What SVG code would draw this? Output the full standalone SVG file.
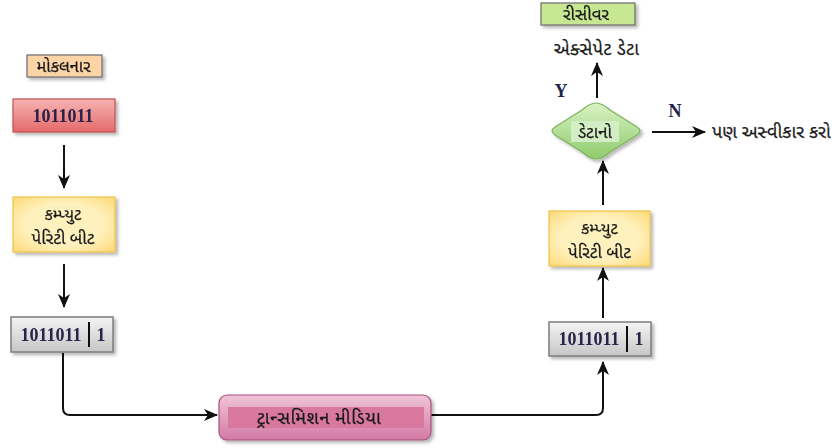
<svg xmlns="http://www.w3.org/2000/svg" width="834" height="448" viewBox="0 0 834 448">
  <defs>
    <filter id="shadow" x="-20%" y="-20%" width="150%" height="160%">
      <feDropShadow dx="2.5" dy="2.5" stdDeviation="1.5" flood-color="#000" flood-opacity="0.28"/>
    </filter>
    <linearGradient id="gRed" x1="0" y1="0" x2="0" y2="1">
      <stop offset="0" stop-color="#f7b3b3"/>
      <stop offset="1" stop-color="#e46a6a"/>
    </linearGradient>
    <linearGradient id="gGray" x1="0" y1="0" x2="0" y2="1">
      <stop offset="0" stop-color="#f4f4f4"/>
      <stop offset="1" stop-color="#c6c6c6"/>
    </linearGradient>
    <linearGradient id="gPink" x1="0" y1="0" x2="0" y2="1">
      <stop offset="0" stop-color="#f0c4d8"/>
      <stop offset="1" stop-color="#d27aa4"/>
    </linearGradient>
    <linearGradient id="gGreen" x1="0" y1="0" x2="0" y2="1">
      <stop offset="0" stop-color="#d9f2c4"/>
      <stop offset="1" stop-color="#8ecb6c"/>
    </linearGradient>
    <radialGradient id="gYellow" cx="0.5" cy="0.5" r="0.7">
      <stop offset="0.55" stop-color="#fff1bd"/>
      <stop offset="1" stop-color="#fcd977"/>
    </radialGradient>
    <marker id="arrow" viewBox="0 0 14 12" refX="13" refY="6" markerWidth="14" markerHeight="12" markerUnits="userSpaceOnUse" orient="auto">
      <path d="M0,0 L14,6 L0,12 L4,6 Z" fill="#111"/>
    </marker>
    <style>
      .guj { font-family: "Noto Sans Gujarati", "Lohit Gujarati", "Noto Sans", "DejaVu Sans", sans-serif; font-size: 17px; fill: #1a1a1a; stroke: #1a1a1a; stroke-width: 0.25; }
      .bits { font-family: "Liberation Serif", "DejaVu Serif", serif; font-size: 18px; font-weight: bold; fill: #2b2148; }
      .yn { font-family: "Liberation Serif", "DejaVu Serif", serif; font-size: 18px; font-weight: bold; fill: #24244a; }
      .edge { fill: none; stroke: #111; stroke-width: 2; }
      .tag { stroke: #6b6b6b; stroke-width: 1.2; }
      .redbox { fill: url(#gRed); stroke: #c0504d; stroke-width: 1.2; }
      .yellowbox { fill: url(#gYellow); stroke: #f0c24a; stroke-width: 1.2; }
      .graybox { fill: url(#gGray); stroke: #7c7c7c; stroke-width: 1.5; }
    </style>
  </defs>

  <rect width="834" height="448" fill="#ffffff"/>

  <!-- connectors -->
  <g id="connectors">
    <line class="edge" x1="64" y1="145" x2="64" y2="188" marker-end="url(#arrow)"/>
    <line class="edge" x1="64" y1="264" x2="64" y2="307" marker-end="url(#arrow)"/>
    <path class="edge" d="M63,353 L63,408 Q63,415 70,415 L217,415" marker-end="url(#arrow)"/>
    <path class="edge" d="M431,415 L596,415 Q603,415 603,408 L603,362" marker-end="url(#arrow)"/>
    <line class="edge" x1="603" y1="318" x2="603" y2="268" marker-end="url(#arrow)"/>
    <line class="edge" x1="603" y1="205" x2="603" y2="161" marker-end="url(#arrow)"/>
    <line class="edge" x1="597" y1="98" x2="597" y2="63" marker-end="url(#arrow)"/>
    <line class="edge" x1="652" y1="132" x2="705" y2="132" marker-end="url(#arrow)"/>
    <text class="yn" x="561" y="97" text-anchor="middle">Y</text>
    <text class="yn" x="675" y="117" text-anchor="middle">N</text>
  </g>

  <!-- sender side -->
  <g id="sender-label" filter="url(#shadow)">
    <rect class="tag" x="27" y="55" width="75" height="22" fill="#fdd4a6"/>
    <text class="guj" x="63.5" y="72" text-anchor="middle" style="font-size:16.5px">મોકલનાર</text>
  </g>

  <g id="sender-data" filter="url(#shadow)">
    <rect class="redbox" x="13" y="99" width="102" height="33"/>
    <text class="bits" x="63" y="122" text-anchor="middle">1011011</text>
  </g>

  <g id="sender-parity" filter="url(#shadow)">
    <rect class="yellowbox" x="13" y="197" width="102" height="55"/>
    <text class="guj" x="63" y="220" text-anchor="middle" style="font-size:16px">કમ્પ્યુટ</text>
    <text class="guj" x="63" y="244" text-anchor="middle">પેરિટી બીટ</text>
  </g>

  <g id="sender-frame" filter="url(#shadow)">
    <rect class="graybox" x="11" y="317" width="102" height="35"/>
    <line x1="89" y1="322" x2="89" y2="347" stroke="#111" stroke-width="2"/>
    <text class="bits" x="51" y="341" text-anchor="middle">1011011</text>
    <text class="bits" x="101" y="341" text-anchor="middle">1</text>
  </g>

  <!-- channel -->
  <g id="transmission-media" filter="url(#shadow)">
    <rect x="219" y="395" width="212" height="45" rx="8" fill="url(#gPink)" stroke="#a6507e" stroke-width="1.2"/>
    <rect x="228" y="407" width="196" height="21" fill="#d9799f"/>
    <text class="guj" x="319" y="424" text-anchor="middle" style="font-size:18px; letter-spacing:0.6px">ટ્રાન્સમિશન મીડિયા</text>
  </g>

  <!-- receiver side -->
  <g id="receiver-frame" filter="url(#shadow)">
    <rect class="graybox" x="549" y="322" width="102" height="34"/>
    <line x1="627" y1="326" x2="627" y2="352" stroke="#111" stroke-width="2"/>
    <text class="bits" x="589" y="345" text-anchor="middle">1011011</text>
    <text class="bits" x="639" y="345" text-anchor="middle">1</text>
  </g>

  <g id="receiver-parity" filter="url(#shadow)">
    <rect class="yellowbox" x="549" y="211" width="101" height="55"/>
    <text class="guj" x="599.5" y="234" text-anchor="middle" style="font-size:16px">કમ્પ્યુટ</text>
    <text class="guj" x="599.5" y="258" text-anchor="middle">પેરિટી બીટ</text>
  </g>

  <g id="data-check" filter="url(#shadow)">
    <path d="M596,103 Q602,103 610,110 L637,127 Q643,131 637,135 L610,152 Q602,159 596,159 Q590,159 582,152 L555,135 Q549,131 555,127 L582,110 Q590,103 596,103 Z" fill="url(#gGreen)" stroke="#7fb25e" stroke-width="1.2"/>
    <rect x="571" y="121" width="48" height="21" fill="#d3edc4"/>
    <text class="guj" x="595" y="138" text-anchor="middle">ડેટાનો</text>
  </g>

  <g id="accept-data">
    <text class="guj" x="596.5" y="55" text-anchor="middle" style="font-size:18px; letter-spacing:0.4px">એક્સેપેટ ડેટા</text>
  </g>

  <g id="reject-data">
    <text class="guj" x="712" y="138" style="font-size:18px">પણ અસ્વીકાર કરો</text>
  </g>

  <g id="receiver-label" filter="url(#shadow)">
    <rect class="tag" x="541" y="3" width="94" height="22" fill="#c8e793"/>
    <text class="guj" x="586" y="20" text-anchor="middle">રીસીવર</text>
  </g>
</svg>
